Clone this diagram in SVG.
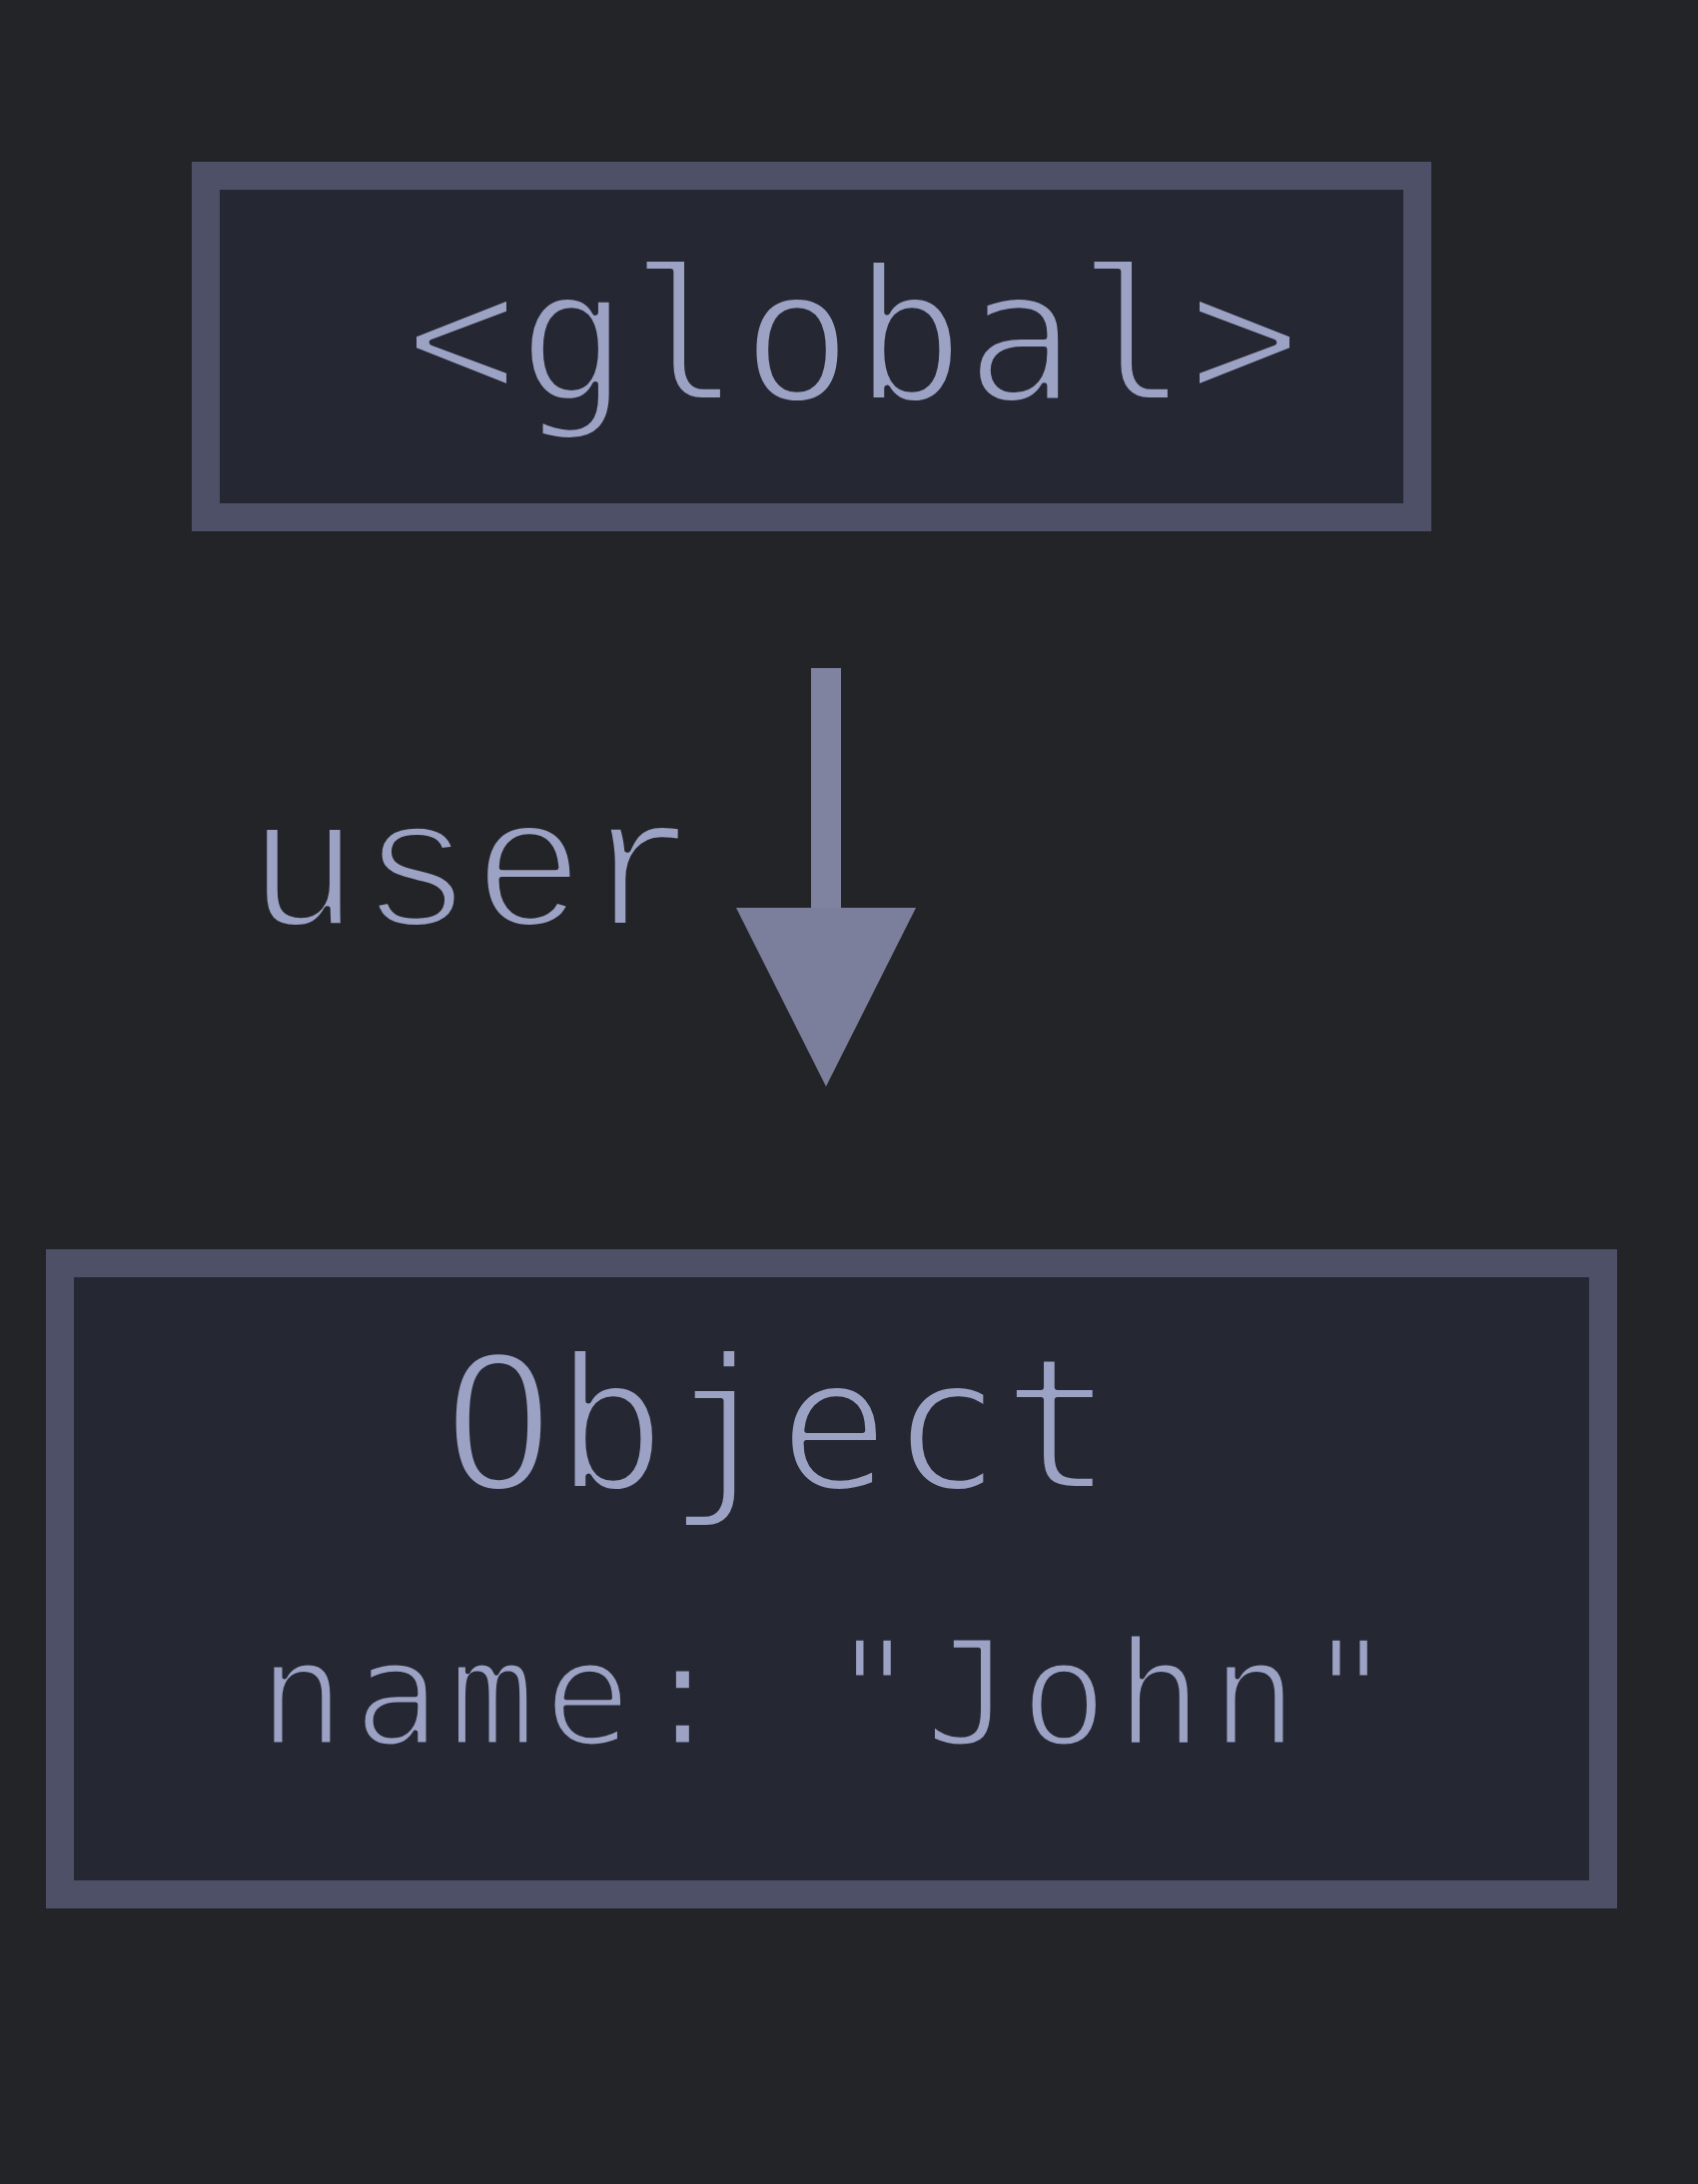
<svg xmlns="http://www.w3.org/2000/svg" width="1700" height="2187" viewBox="0 0 1700 2187">
  <defs>
    <style>
      .node rect { fill: #252733; stroke: #4e5068; stroke-width: 28; }
      .title { font-family: "DejaVu Sans Mono", "Liberation Mono", monospace; font-size: 186px; fill: #9ca2c4; stroke: #252733; stroke-width: 6; stroke-linejoin: round; }
      .field { font-family: "DejaVu Sans Mono", "Liberation Mono", monospace; font-size: 146px; fill: #9ca2c4; letter-spacing: 7.5px; stroke: #252733; stroke-width: 5; stroke-linejoin: round; }
      .elabel { font-family: "Liberation Mono", "DejaVu Sans Mono", monospace; font-size: 188px; fill: #9ca2c4; stroke: #232428; stroke-width: 6; stroke-linejoin: round; }
      .edge line { stroke: #7f839f; stroke-width: 30; }
      .edge polygon { fill: #7b7f9c; }
    </style>
  </defs>
  <rect x="0" y="0" width="1700" height="2187" fill="#232428"/>
  <g id="node-global" class="node">
    <rect x="206" y="176" width="1213" height="342"/>
    <text class="title" x="854" y="401" text-anchor="middle">&lt;global&gt;</text>
  </g>
  <g id="node-object" class="node">
    <rect x="60" y="1265" width="1545" height="632"/>
    <text class="title" x="779" y="1491" text-anchor="middle">Object</text>
    <text class="field" x="258" y="1747">name: "John"</text>
  </g>
  <g id="connectors" class="edge">
    <line x1="827" y1="669" x2="827" y2="912"/>
    <polygon points="737,909 917,909 827,1088"/>
    <text class="elabel" x="473" y="927" text-anchor="middle">user</text>
  </g>
</svg>
